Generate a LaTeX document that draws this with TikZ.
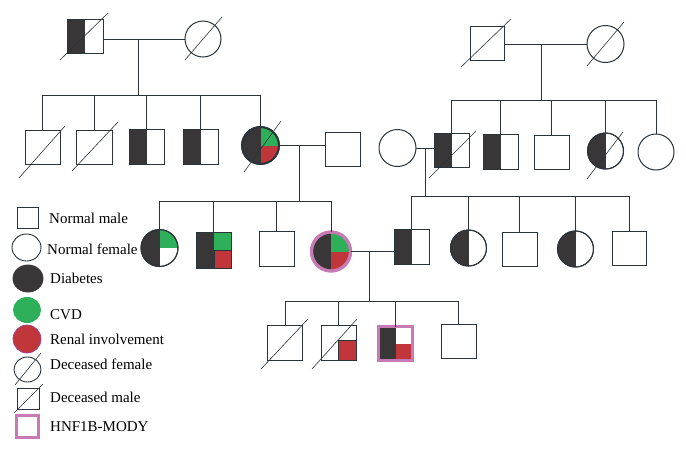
\documentclass[tikz,border=0pt]{standalone}
\usepackage{fontspec}
\setmainfont{Liberation Serif}
\usetikzlibrary{shapes.geometric}
\definecolor{ink}{RGB}{43,51,59}
\definecolor{dk}{RGB}{56,54,55}
\definecolor{gr}{RGB}{46,176,90}
\definecolor{rd}{RGB}{193,54,58}
\definecolor{pk}{RGB}{200,122,180}
\definecolor{pu}{RGB}{150,70,140}
\tikzset{
  ln/.style={draw=ink, line width=1pt},
  dg/.style={draw=ink, line width=0.6pt},
  sq/.style={rectangle, draw=ink, line width=1pt, inner sep=0pt, outer sep=0pt,
    minimum width=35pt, minimum height=34pt, fill=white},
  ci/.style={circle, draw=ink, line width=1pt, inner sep=0pt, outer sep=0pt,
    minimum size=37pt, fill=white},
  el/.style={ellipse, inner sep=0pt, outer sep=0pt, line width=0.9pt},
  redraw/.style={postaction={draw}},
  hd/.style={redraw, path picture={\fill[dk] (path picture bounding box.south west) rectangle (path picture bounding box.north);}},
  hdg/.style={redraw, path picture={
    \fill[dk] (path picture bounding box.south west) rectangle (path picture bounding box.north);
    \fill[gr] (path picture bounding box.center) rectangle (path picture bounding box.north east);}},
  hdgr/.style={redraw, path picture={
    \fill[dk] (path picture bounding box.south west) rectangle (path picture bounding box.north);
    \fill[gr] (path picture bounding box.center) rectangle (path picture bounding box.north east);
    \fill[rd] (path picture bounding box.center) rectangle (path picture bounding box.south east);}},
  hdr/.style={redraw, path picture={
    \fill[dk] (path picture bounding box.south west) rectangle (path picture bounding box.north);
    \fill[rd] (path picture bounding box.center) rectangle (path picture bounding box.south east);}},
  lbl/.style={anchor=base west, inner sep=0pt, font=\fontsize{15pt}{18pt}\selectfont, text=black},
}
\begin{document}
\begin{tikzpicture}[x=1pt, y=-1pt]
\useasboundingbox (0,0) rectangle (686,453);
\fill[white] (0,0) rectangle (686,453);

% ---------- Generation I ----------
\node[sq, minimum width=36pt, hd] (I1) at (85,36) {};
\node[ci, minimum size=36pt] (I2) at (203,39) {};
\node[sq, minimum width=34pt] (I3) at (487,43) {};
\node[ci] (I4) at (605.5,44) {};
\draw[dg] (60,60) -- (108,13);
\draw[dg] (185,60) -- (222,17);
\draw[dg] (461,67) -- (511,19);
\draw[dg] (587,66) -- (624,22);

% ---------- Generation II ----------
\node[sq] (II1) at (42.5,147) {};
\node[sq, minimum width=36pt] (II2) at (94,147) {};
\node[sq, minimum height=35pt, hd] (II3) at (146.5,146.5) {};
\node[sq, minimum height=35pt, hd] (II4) at (200.5,146.5) {};
\node[ci, minimum size=37pt, line width=1.8pt, hdgr] (II5) at (260.5,145.5) {};
\node[sq] (II6) at (342.5,149) {};
\node[ci] (II7) at (397.5,148) {};
\node[sq, hd] (II8) at (451.5,150) {};
\node[sq, minimum height=35pt, hd] (II9) at (500.5,151.5) {};
\node[sq] (II10) at (551.5,152) {};
\node[ci, minimum size=36pt, hd] (II11) at (605.5,151) {};
\node[ci, minimum size=36pt] (II12) at (656,152) {};
\draw[dg] (19,178) -- (65,126);
\draw[dg] (72,171) -- (118,122);
\draw[dg] (244,172) -- (281,121);
\draw[dg] (429,178) -- (476,131);
\draw[dg] (587,179) -- (623,132);

% ---------- Generation III ----------
\node[ci, hdg] (III1) at (159.5,248) {};
\node[sq, minimum height=36pt, hdg] (III2) at (213.5,250) {};
\filldraw[fill=rd, draw=ink, line width=1pt] (214.5,250.5) rectangle (231,268);
\node[sq, minimum height=35pt] (III3) at (276.5,248.5) {};
\node[circle, draw=pk, line width=3pt, inner sep=0pt, outer sep=0pt, minimum size=39pt, hdgr] (III4) at (331,251.5) {};
\node[sq, minimum height=35pt, hd] (III5) at (411.5,246.5) {};
\node[ci, minimum size=36pt, hd] (III6) at (468.5,248) {};
\node[sq] (III7) at (519.5,249) {};
\node[ci, minimum size=36pt, hd] (III8) at (575.5,249) {};
\node[sq, minimum width=34pt] (III9) at (629,248) {};

% ---------- Generation IV ----------
\node[sq, minimum height=35pt] (IV1) at (285,342.5) {};
\node[sq, minimum height=35pt] (IV2) at (338.5,342.5) {};
\filldraw[fill=rd, draw=ink, line width=1pt] (338,340) rectangle (356,360);
\node[rectangle, draw=pk, line width=3pt, inner sep=0pt, outer sep=0pt, minimum size=34pt, hdr] (IV3) at (395.5,343.5) {};
\node[sq] (IV4) at (458.5,341.5) {};
\draw[dg] (261,369) -- (308,319);
\draw[dg] (312,369) -- (357,319);

% ---------- connectors ----------
\coordinate (s1) at (138,95);
\draw[ln] (I1.east |- I2.west) -- (I2.west);
\draw[ln] (s1 |- I2.west) -- (s1);
\draw[ln] (II1.north |- s1) -- (II5.north |- s1);
\foreach \n in {II1,II2,II3,II4,II5} \draw[ln] (\n.north) -- (\n.north |- s1);

\coordinate (s2) at (541,100);
\draw[ln] (I3.east |- I4.west) -- (I4.west);
\draw[ln] (s2 |- I4.west) -- (s2);
\draw[ln] (II8.north |- s2) -- (II12.north |- s2);
\foreach \n in {II8,II9,II10,II11,II12} \draw[ln] (\n.north) -- (\n.north |- s2);

\coordinate (s3) at (299,201);
\draw[ln] (II5.east) -- (II6.west |- II5.east);
\draw[ln] (s3 |- II5.east) -- (s3);
\draw[ln] (III1.north |- s3) -- (III4.north |- s3);
\foreach \n in {III1,III2,III3,III4} \draw[ln] (\n.north) -- (\n.north |- s3);

\coordinate (s4) at (425,196);
\draw[ln] (II7.east) -- (II8.west |- II7.east);
\draw[ln] (s4 |- II7.east) -- (s4);
\draw[ln] (III5.north |- s4) -- (III9.north |- s4);
\foreach \n in {III5,III6,III7,III8,III9} \draw[ln] (\n.north) -- (\n.north |- s4);

\coordinate (s5) at (369,301);
\draw[ln] (III4.east) -- (III5.west |- III4.east);
\draw[ln] (s5 |- III4.east) -- (s5);
\draw[ln] (IV1.north |- s5) -- (IV4.north |- s5);
\foreach \n in {IV1,IV2,IV3,IV4} \draw[ln] (\n.north) -- (\n.north |- s5);

% ---------- legend ----------
\node[sq, minimum width=21pt, minimum height=21pt] (LM) at (27.5,217.5) {};
\node[el, draw=ink, fill=white, minimum width=29pt, minimum height=27pt] (LF) at (26.5,247.5) {};
\node[el, draw=dk, fill=dk, minimum width=30pt, minimum height=27pt] (LD) at (28,278.5) {};
\node[el, fill=gr, minimum width=28pt, minimum height=26pt] (LC) at (27,310) {};
\node[el, draw=pu, line width=0.7pt, fill=rd, minimum width=28pt, minimum height=28pt] (LR) at (27,339) {};
\node[el, draw=ink, fill=white, minimum width=27pt, minimum height=25pt] (LDF) at (27.5,369.5) {};
\draw[dg] (15,385) -- (41,353);
\node[sq, minimum width=22pt, minimum height=21pt] (LDM) at (28,398.5) {};
\draw[dg] (14,413) -- (43,384);
\node[rectangle, draw=pk, line width=3pt, fill=white, inner sep=0pt, minimum size=22pt] (LH) at (27.5,426.5) {};

\node[lbl] (tLM) at (49,223) {Normal male};
\node[lbl] (tLF) at (47,254) {Normal female};
\node[lbl] (tLD) at (50,283) {Diabetes};
\node[lbl] (tLC) at (50,319) {CVD};
\node[lbl] (tLR) at (50,344) {Renal involvement};
\node[lbl] (tLDF) at (50,369) {Deceased female};
\node[lbl] (tLDM) at (50,402) {Deceased male};
\node[lbl] (tLH) at (50,431) {HNF1B-MODY};
\end{tikzpicture}
\end{document}
